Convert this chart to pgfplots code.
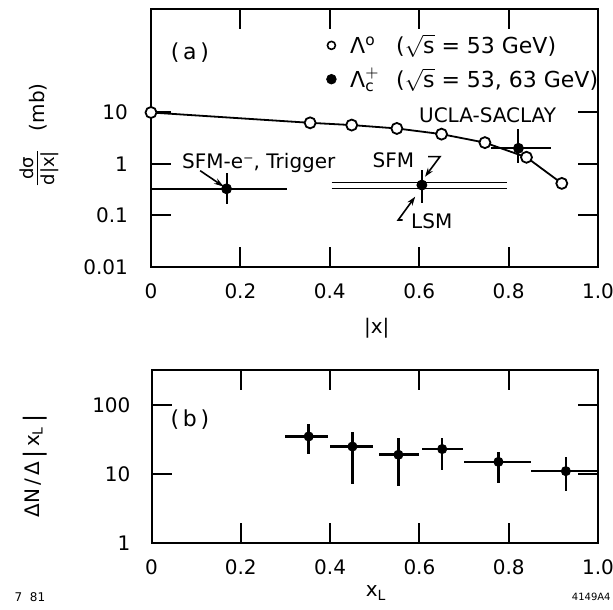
\documentclass[border=0pt]{standalone}
\usepackage{pgfplots}
\pgfplotsset{compat=1.18}
\usepackage{fontspec}
\setmainfont{DejaVu Sans}
\usetikzlibrary{arrows.meta}

\pgfplotsset{
  mystyle/.style={
    scale only axis,
    axis line style={line width=1pt},
    tick align=inside,
    major tick length=10pt,
    every tick/.style={line width=1pt, black},
    xmin=0, xmax=1,
    xtick={0,0.2,0.4,0.6,0.8,1},
    xticklabels={0,0.2,0.4,0.6,0.8,1.0},
    xticklabel style={yshift=-5pt},
    tick label style={font=\fontsize{10}{12}\selectfont},
    xminorticks=false, yminorticks=false,
    clip=false,
  }
}

\begin{document}
\begin{tikzpicture}[font=\fontsize{10}{12}\selectfont]
\path[use as bounding box] (0,0) rectangle (306.5pt,304.5pt);

% ---------------- panel (a) ----------------
\begin{axis}[mystyle, ymode=log,
  at={(75.5pt,171pt)}, anchor=south west,
  width=223.5pt, height=128.75pt,
  ymin=0.01, ymax=1000,
  ytick={0.01,0.1,1,10}, yticklabels={0.01,0.1,1,10},
  yticklabel style={xshift=-8pt},
  xlabel={|x|},
  xlabel style={at={(axis description cs:0.505,-0.236)}, anchor=center, font=\fontsize{10}{12}\selectfont},
  ylabel={\begin{tabular}{@{}c@{}}\fontsize{9}{9}\selectfont dσ\\[-1.5pt]\hline\rule{0pt}{8pt}\fontsize{9}{9}\selectfont d|x|\end{tabular}\quad (mb)},
  ylabel style={at={(axis description cs:-0.25,0.515)}, anchor=center},
  legend style={draw=none, fill=none, at={(axis description cs:0.392,0.92)}, anchor=north west,
    font=\fontsize{11}{13}\selectfont, row sep=2pt, inner sep=0pt},
  legend cell align=left,
]
\addlegendimage{only marks, mark=*, mark size=2pt, mark options={fill=white, line width=0.8pt}}
\addlegendentry{\hspace{5pt}\makebox[23pt][l]{Λ$^{\mathrm{o}}$}($\sqrt{\mbox{s}}$ = 53 GeV)}
\addlegendimage{only marks, mark=*, mark size=2.4pt, mark options={fill=black}}
\addlegendentry{\hspace{5pt}\makebox[23pt][l]{Λ$^{+}_{\mathrm{c}}$}($\sqrt{\mbox{s}}$ = 53, 63 GeV)}

% SFM / LSM horizontal ranges
\addplot[black, line width=0.8pt, forget plot] coordinates {(0.404,0.434) (0.796,0.434)};
\addplot[black, line width=0.8pt, forget plot] coordinates {(0.404,0.337) (0.796,0.337)};

% Lambda^0 data
\addplot[black, line width=0.9pt, mark=*, mark size=2.75pt,
  mark options={fill=white, line width=0.9pt}, forget plot] coordinates {
  (0,10) (0.356,6.3) (0.449,5.7) (0.550,4.9) (0.650,3.8) (0.747,2.6) (0.840,1.35) (0.919,0.42)
};

% Lambda_c^+ data
\addplot[black, only marks, mark=*, mark size=2.5pt, forget plot,
  error bars/.cd, x dir=both, x explicit, y dir=both, y explicit,
  error bar style={line width=1pt}, error mark=none]
  table[x=x, y=y, x error plus=xp, x error minus=xm, y error plus=yp, y error minus=ym] {
x     y     xm     xp     ym     yp
0.169 0.33  0.169  0.135  0.163  0.34
0.606 0.39  0      0      0.215  0.37
0.822 2.02  0.062  0.073  0.97   2.68
};

\node[anchor=west] at (axis cs:0.054,1.045) {SFM-e⁻, Trigger};
\draw[line width=0.8pt, -{Stealth[length=5pt,width=3pt]}] (axis cs:0.110,0.741) -- (axis cs:0.163,0.362);
\node at (axis cs:0.542,1.2) {SFM};
\draw[line width=0.8pt, -{Stealth[length=4.5pt,width=3pt]}] (axis cs:0.620,1.39) -- (axis cs:0.6465,1.39) -- (axis cs:0.613,0.566);
\node at (axis cs:0.628,0.0758) {LSM};
\draw[line width=0.8pt, -{Stealth[length=4.5pt,width=3pt]}] (axis cs:0.563,0.0818) -- (axis cs:0.553,0.0818) -- (axis cs:0.591,0.232);
\node at (axis cs:0.753,8.94) {UCLA-SACLAY};
\node[font=\fontsize{11}{13}\selectfont] at (axis description cs:0.087,0.831) {(\,a\,)};
\end{axis}

% ---------------- panel (b) ----------------
\begin{axis}[mystyle, ymode=log,
  at={(75.75pt,33pt)}, anchor=south west,
  width=223.25pt, height=86.25pt,
  ymin=1, ymax=316,
  ytick={1,10,100}, yticklabels={1,10,100},
  yticklabel style={xshift=-7pt},
  xlabel={x\textsubscript{L}},
  xlabel style={at={(axis description cs:0.503,-0.29)}, anchor=center, font=\fontsize{10}{12}\selectfont},
  ylabel={ΔN\,/\,Δ\,\raisebox{-1pt}{\large|}\,x\textsubscript{L}\,\raisebox{-1pt}{\large|}},
  ylabel style={at={(axis description cs:-0.261,0.446)}, anchor=center},
]
\addplot[black, only marks, mark=*, mark size=2.3pt,
  error bars/.cd, x dir=both, x explicit, y dir=both, y explicit,
  error bar style={line width=1.3pt}, error mark=none]
  table[x=x, y=y, x error plus=xp, x error minus=xm, y error plus=yp, y error minus=ym] {
x     y   xm     xp     ym    yp
0.352 35  0.052  0.043  15.4  18
0.450 25  0.050  0.045  17.8  16
0.553 19  0.043  0.047  12.3  14
0.651 23  0.046  0.046  11.6  10
0.777 15  0.077  0.073  7.5   6
0.928 11  0.078  0.072  5.4   6.5
};
\node[font=\fontsize{11}{13}\selectfont] at (axis description cs:0.086,0.713) {(\,b\,)};
\end{axis}

\node[font=\fontsize{6}{7}\selectfont] at (15pt,6pt) {7\ \ 81};
\node[font=\fontsize{5}{6}\selectfont, anchor=east, inner sep=0.5pt] at (306pt,6pt) {4149A4};
\end{tikzpicture}
\end{document}
